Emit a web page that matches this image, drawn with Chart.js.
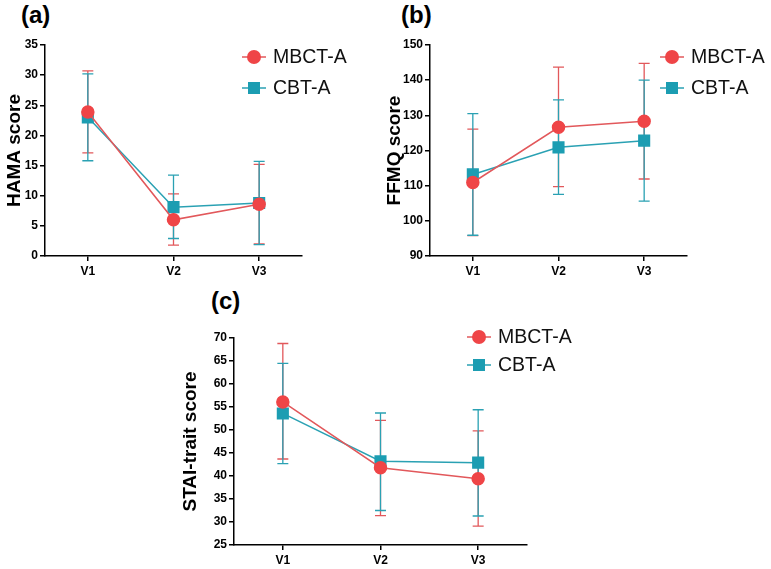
<!DOCTYPE html>
<html lang="en">
<head>
  <meta charset="UTF-8" />
  <title>HAMA, FFMQ and STAI-trait scores</title>
  <script src="https://cdn.jsdelivr.net/npm/chart.js"></script>
  <style>
    body {
      margin: 0;
      padding: 0;
      background: #fff;
      font-family: "Liberation Sans", Arial, sans-serif;
    }
    #page {
      position: relative;
      width: 771px;
      height: 569px;
      overflow: hidden;
    }
    .panel {
      position: absolute;
    }
    .tag {
      position: absolute;
      font-weight: bold;
      font-size: 24px;
      color: #000;
    }
  </style>
</head>
<body>
<div id="page">
  <div class="tag" style="left:21px; top:1px;">(a)</div>
  <div class="tag" style="left:401px; top:1px;">(b)</div>
  <div class="tag" style="left:211px; top:287px;">(c)</div>
  <div class="panel" style="left:0px; top:0px; width:385px; height:285px;"><canvas id="chartA"></canvas></div>
  <div class="panel" style="left:385px; top:0px; width:386px; height:285px;"><canvas id="chartB"></canvas></div>
  <div class="panel" style="left:180px; top:285px; width:420px; height:284px;"><canvas id="chartC"></canvas></div>
</div>

<script>
  Chart.defaults.font.family = '"Liberation Sans", Arial, sans-serif';

  // visits
  const visits = ['V1', 'V2', 'V3'];
  const groups = ['MBCT-A', 'CBT-A'];

  // (a) HAMA: mean, lower and upper end of error bar
  const hamaMbct = [23.9, 6.0, 8.6];
  const hamaMbctLow = [17.1, 1.8, 2.0];
  const hamaMbctHigh = [30.7, 10.3, 15.2];
  const hamaCbt = [23.0, 8.1, 8.8];
  const hamaCbtLow = [15.8, 2.9, 1.9];
  const hamaCbtHigh = [30.2, 13.4, 15.7];

  // (b) FFMQ
  const ffmqMbct = [110.9, 126.6, 128.3];
  const ffmqMbctLow = [95.8, 109.7, 111.9];
  const ffmqMbctHigh = [126.1, 143.7, 144.8];
  const ffmqCbt = [113.2, 120.9, 122.8];
  const ffmqCbtLow = [95.9, 107.5, 105.6];
  const ffmqCbtHigh = [130.5, 134.4, 140.0];

  // (c) STAI-trait
  const staiMbct = [56.1, 41.8, 39.4];
  const staiMbctLow = [43.7, 31.4, 29.1];
  const staiMbctHigh = [68.8, 52.1, 49.8];
  const staiCbt = [53.6, 43.2, 42.9];
  const staiCbtLow = [42.7, 32.5, 31.3];
  const staiCbtHigh = [64.5, 53.7, 54.4];

  const red = '#ef4547';
  const redLine = '#e2585b';
  const teal = '#1c9db2';
  const tealLine = '#2aa1b3';

  // error bars, drawn under the markers
  const errorBars = {
    id: 'errorBars',
    beforeDatasetsDraw(chart) {
      const ctx = chart.ctx;
      const y = chart.scales.y;
      chart.data.datasets.forEach((ds, i) => {
        const meta = chart.getDatasetMeta(i);
        ctx.save();
        ctx.strokeStyle = ds.borderColor;
        ctx.lineWidth = 1.3;
        meta.data.forEach((pt, j) => {
          const top = y.getPixelForValue(ds.high[j]);
          const bot = y.getPixelForValue(ds.low[j]);
          ctx.beginPath();
          ctx.moveTo(pt.x, top);
          ctx.lineTo(pt.x, bot);
          ctx.moveTo(pt.x - 5.5, top);
          ctx.lineTo(pt.x + 5.5, top);
          ctx.moveTo(pt.x - 5.5, bot);
          ctx.lineTo(pt.x + 5.5, bot);
          ctx.stroke();
        });
        ctx.restore();
      });
    }
  };

  // legend in the upper right corner
  const cornerLegend = {
    id: 'cornerLegend',
    afterDraw(chart, args, opts) {
      const ctx = chart.ctx;
      chart.data.datasets.forEach((ds, i) => {
        const cy = opts.y + i * opts.gap;
        ctx.save();
        ctx.strokeStyle = ds.borderColor;
        ctx.lineWidth = 1.5;
        ctx.beginPath();
        ctx.moveTo(opts.x - 12, cy);
        ctx.lineTo(opts.x + 12, cy);
        ctx.stroke();
        ctx.fillStyle = ds.pointBackgroundColor;
        if (ds.pointStyle === 'rect') {
          ctx.fillRect(opts.x - 6, cy - 6, 12, 12);
        } else {
          ctx.beginPath();
          ctx.arc(opts.x, cy, 7, 0, Math.PI * 2);
          ctx.fill();
        }
        ctx.fillStyle = '#111';
        ctx.font = '19.5px "Liberation Sans", Arial, sans-serif';
        ctx.textBaseline = 'middle';
        ctx.fillText(ds.label, opts.x + 19, cy + 1);
        ctx.restore();
      });
    }
  };

  function makeChart(id, cfg) {
    const datasets = [
      {
        label: groups[0],
        data: cfg.mbct,
        low: cfg.mbctLow,
        high: cfg.mbctHigh,
        borderColor: redLine,
        pointBackgroundColor: red,
        pointBorderColor: red,
        pointStyle: 'circle',
        pointRadius: 6,
        borderWidth: 1.5,
        tension: 0
      },
      {
        label: groups[1],
        data: cfg.cbt,
        low: cfg.cbtLow,
        high: cfg.cbtHigh,
        borderColor: tealLine,
        pointBackgroundColor: teal,
        pointBorderColor: teal,
        pointStyle: 'rect',
        pointRadius: 7.5,
        borderWidth: 1.5,
        tension: 0
      }
    ];

    return new Chart(document.getElementById(id), {
      type: 'line',
      data: { labels: visits, datasets: datasets },
      plugins: [errorBars, cornerLegend],
      options: {
        responsive: true,
        maintainAspectRatio: false,
        animation: false,
        layout: { padding: { top: cfg.top, right: cfg.right, left: 0, bottom: 0 } },
        plugins: {
          legend: { display: false },
          tooltip: { enabled: false },
          cornerLegend: cfg.legend
        },
        scales: {
          x: {
            offset: true,
            grid: { drawOnChartArea: false, drawTicks: true, tickLength: 5, color: '#000', lineWidth: 1.5 },
            border: { color: '#000', width: 1.5 },
            ticks: { color: '#000', font: { size: 12, weight: 'bold' }, padding: 3 },
            afterFit(scale) { scale.height = cfg.xHeight; }
          },
          y: {
            min: cfg.min,
            max: cfg.max,
            grid: { drawOnChartArea: false, drawTicks: true, tickLength: 5, color: '#000', lineWidth: 1.5 },
            border: { color: '#000', width: 1.5 },
            ticks: { stepSize: cfg.step, color: '#000', font: { size: 12, weight: 'bold' }, padding: 2 },
            title: {
              display: true,
              text: cfg.title,
              color: '#000',
              font: { size: 19, weight: 'bold', lineHeight: 1 },
              padding: { top: cfg.titlePad, bottom: 0 }
            },
            afterFit(scale) { scale.width = cfg.yWidth; }
          }
        }
      }
    });
  }

  makeChart('chartA', {
    mbct: hamaMbct, mbctLow: hamaMbctLow, mbctHigh: hamaMbctHigh,
    cbt: hamaCbt, cbtLow: hamaCbtLow, cbtHigh: hamaCbtHigh,
    min: 0, max: 35, step: 5, title: 'HAMA score', titlePad: 5,
    top: 45, right: 83, yWidth: 45, xHeight: 29,
    legend: { x: 254, y: 57, gap: 31 }
  });

  makeChart('chartB', {
    mbct: ffmqMbct, mbctLow: ffmqMbctLow, mbctHigh: ffmqMbctHigh,
    cbt: ffmqCbt, cbtLow: ffmqCbtLow, cbtHigh: ffmqCbtHigh,
    min: 90, max: 150, step: 10, title: 'FFMQ score', titlePad: 0,
    top: 45, right: 84, yWidth: 45, xHeight: 29,
    legend: { x: 287, y: 57, gap: 31 }
  });

  makeChart('chartC', {
    mbct: staiMbct, mbctLow: staiMbctLow, mbctHigh: staiMbctHigh,
    cbt: staiCbt, cbtLow: staiCbtLow, cbtHigh: staiCbtHigh,
    min: 25, max: 70, step: 5, title: 'STAI-trait score', titlePad: 1,
    top: 53, right: 73, yWidth: 54, xHeight: 24,
    legend: { x: 299, y: 52, gap: 28 }
  });
</script>
</body>
</html>
